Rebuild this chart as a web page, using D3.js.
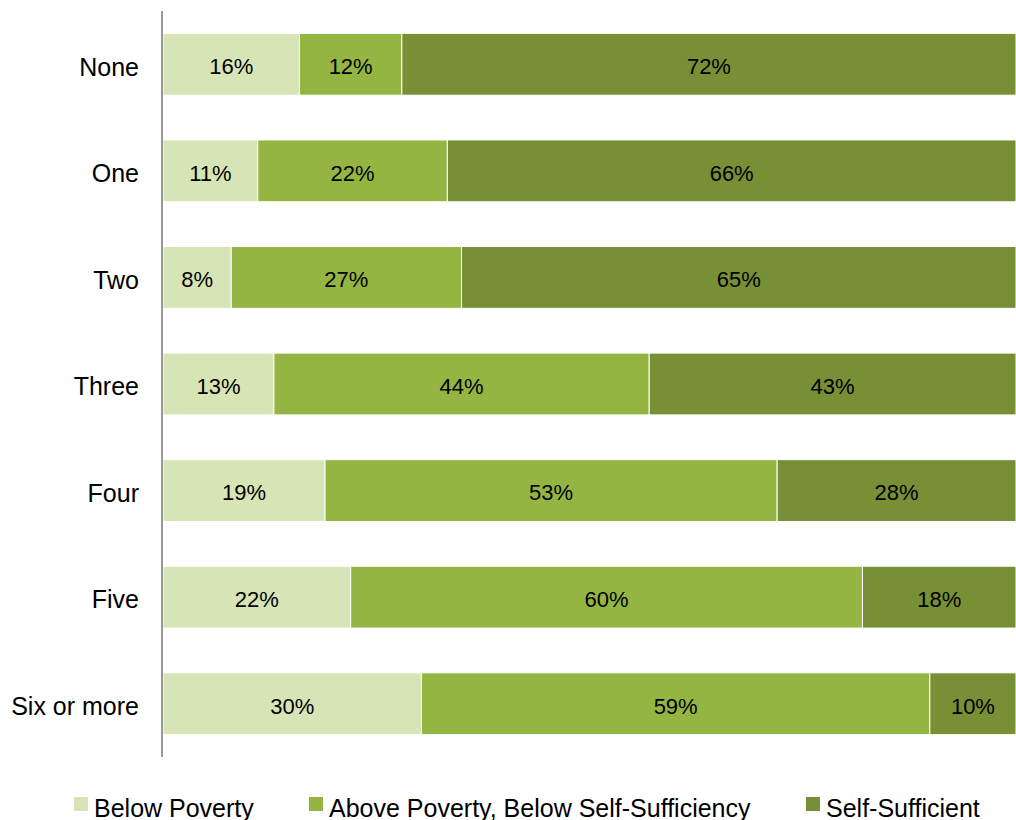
<!DOCTYPE html>
<html>
<head>
<meta charset="utf-8">
<script src="https://cdn.jsdelivr.net/npm/d3@7"></script>
<style>
  body { margin: 0; background: #fff; }
  svg text { font-family: "Liberation Sans", Arial, sans-serif; fill: #000; }
</style>
</head>
<body>
<svg id="chart" width="1016" height="820"></svg>
<script>
var categories = ["None", "One", "Two", "Three", "Four", "Five", "Six or more"];
var seriesNames = ["Below Poverty", "Above Poverty, Below Self-Sufficiency", "Self-Sufficient"];
var belowPoverty = [16, 11, 8, 13, 19, 22, 30];
var abovePoverty = [12, 22, 27, 44, 53, 60, 59];
var selfSufficient = [72, 66, 65, 43, 28, 18, 10];
var colors = ["#d7e5b6", "#95b543", "#778f35"];

var rows = categories.map(function(c, i) {
  return { cat: c, s0: belowPoverty[i], s1: abovePoverty[i], s2: selfSufficient[i] };
});

var margin = {top: 11, right: 0, bottom: 63, left: 163},
  width = 1016 - margin.left - margin.right,
  height = 820 - margin.top - margin.bottom;

var svg = d3.select("#chart");
var g = svg.append("g").attr("transform", "translate(" + margin.left + "," + margin.top + ")");

var stack = d3.stack().keys(["s0", "s1", "s2"]).offset(d3.stackOffsetExpand);
var layers = stack(rows);

var x = d3.scaleLinear().domain([0, 1]).range([0, width]);
var y = d3.scaleBand().domain(categories).range([0, height]).paddingInner(0.42).paddingOuter(0.21);

var layer = g.selectAll("g.layer")
  .data(layers)
  .enter().append("g")
    .attr("class", "layer")
    .attr("fill", function(d, i) { return colors[i]; });

layer.selectAll("rect")
  .data(function(d) { return d; })
  .enter().append("rect")
    .attr("x", function(d) { return x(d[0]); })
    .attr("y", function(d) { return y(d.data.cat); })
    .attr("width", function(d) { return x(d[1]) - x(d[0]); })
    .attr("height", y.bandwidth())
    .attr("stroke", "#fff")
    .attr("stroke-width", 1);

layer.selectAll("text")
  .data(function(d) { return d.map(function(p) { p.key = d.key; return p; }); })
  .enter().append("text")
    .attr("x", function(d) { return (x(d[0]) + x(d[1])) / 2; })
    .attr("y", function(d) { return y(d.data.cat) + y.bandwidth() / 2; })
    .attr("dy", "0.45em")
    .attr("text-anchor", "middle")
    .style("font-size", "22px")
    .text(function(d) { return d.data[d.key] + "%"; });

// category axis
var yAxis = d3.axisLeft(y).tickSize(0).tickPadding(24);
var ax = g.append("g").call(yAxis);
ax.select(".domain").attr("stroke", "#999").attr("stroke-width", 2).attr("d", "M-1,0V" + height);
ax.selectAll("text").style("font-size", "25px").attr("dy", "0.45em");

// legend
var legendX = [74, 309, 806];
var legend = svg.append("g").attr("transform", "translate(0,797)");
var item = legend.selectAll("g")
  .data(seriesNames)
  .enter().append("g")
    .attr("transform", function(d, i) { return "translate(" + legendX[i] + ",0)"; });
item.append("rect")
  .attr("width", 14).attr("height", 14)
  .attr("fill", function(d, i) { return colors[i]; });
item.append("text")
  .attr("x", 20).attr("y", 7).attr("dy", "0.5em")
  .style("font-size", "25px")
  .text(function(d) { return d; });
</script>
</body>
</html>
